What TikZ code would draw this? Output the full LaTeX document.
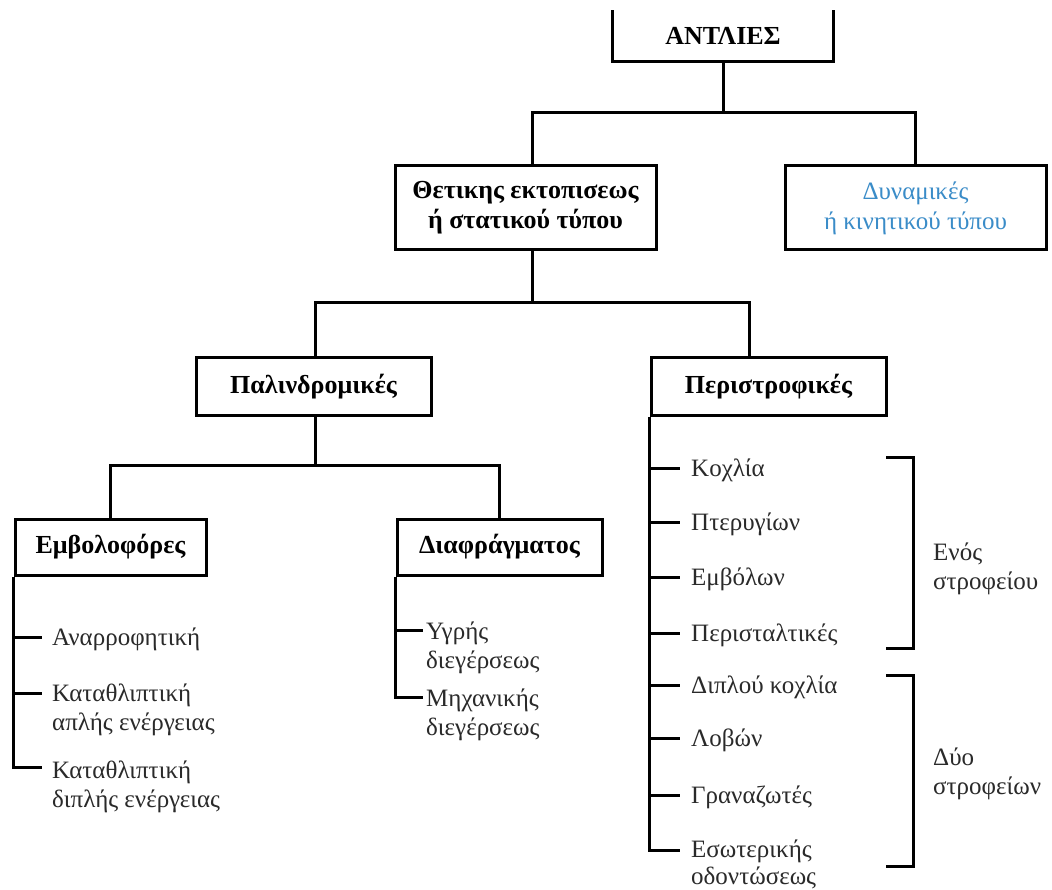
\documentclass[tikz,border=0pt]{standalone}
\usepackage{fontspec}
\setmainfont{Liberation Serif}
\definecolor{itemgray}{HTML}{2A2A2A}
\definecolor{dynblue}{HTML}{3A8CC8}
\tikzset{
  box/.style={draw, line width=3pt, rectangle, inner sep=0pt, align=center,
    font=\bfseries\fontsize{26}{30}\selectfont},
  conn/.style={line width=3pt},
  item/.style={anchor=base west, inner sep=0pt, align=left, text=itemgray,
    font=\fontsize{25}{29}\selectfont},
}
\begin{document}
\begin{tikzpicture}[x=1pt,y=-1pt]
\fill[white] (0,0) rectangle (1052,890);
\useasboundingbox (0,0) rectangle (1052,890);

% top box (open at the top)
\node[box, draw=none, minimum width=218pt, minimum height=48pt] (top) at (723,36) {ΑΝΤΛΙΕΣ};
\draw[conn] (top.north west) -- (top.south west) -- (top.south east) -- (top.north east);

\node[box, minimum width=261pt, minimum height=84pt] (thet) at (525.5,208) {Θετικης εκτοπισεως\\ή στατικού τύπου};
\node[box, minimum width=261pt, minimum height=84pt, text=dynblue,
      font=\fontsize{25}{30}\selectfont] (dyn) at (915.5,208) {Δυναμικές\\ή κινητικού τύπου};

\coordinate (j1) at (723,113);
\draw[conn] (top.south) -- (j1);
\draw[conn] ([xshift=7pt]thet.north) |- (j1) -| (dyn.north);

\node[box, minimum width=235pt, minimum height=57pt] (palin) at (313.5,386.5) {Παλινδρομικές};
\node[box, minimum width=235pt, minimum height=57pt] (perist) at (768.5,386.5) {Περιστροφικές};

\coordinate (j2) at (532.5,303);
\draw[conn] ([xshift=7pt]thet.south) -- (j2);
\draw[conn] ([xshift=1.5pt]palin.north) |- (j2) -| ([xshift=-19.5pt]perist.north);

\node[box, minimum width=191pt, minimum height=56pt] (embol) at (110.5,547) {Εμβολοφόρες};
\node[box, minimum width=205pt, minimum height=56pt] (diaf) at (499.5,547) {Διαφράγματος};

\coordinate (j3) at (315,465);
\draw[conn] ([xshift=1.5pt]palin.south) -- (j3);
\draw[conn] (embol.north) |- (j3) -| (diaf.north);

% Εμβολοφόρες list
\coordinate (e1) at (42,637);
\coordinate (e2) at (42,693);
\coordinate (e3) at (42,767);
\draw[conn] (embol.south west) |- (e3);
\draw[conn] (e1 -| embol.south west) -- (e1);
\draw[conn] (e2 -| embol.south west) -- (e2);
\node[item] (ie1) at (52,645) {Αναρροφητική};
\node[item] (ie2) at (52,730) {Καταθλιπτική\\απλής ενέργειας};
\node[item] (ie3) at (52,807) {Καταθλιπτική\\διπλής ενέργειας};

% Διαφράγματος list
\coordinate (d1) at (423,630);
\coordinate (d2) at (423,697);
\draw[conn] (diaf.south west) |- (d2);
\draw[conn] (d1 -| diaf.south west) -- (d1);
\node[item] (id1) at (426,668) {Υγρής\\διεγέρσεως};
\node[item] (id2) at (426,735) {Μηχανικής\\διεγέρσεως};

% Περιστροφικές list
\coordinate (p1) at (680,468);
\coordinate (p2) at (680,522);
\coordinate (p3) at (680,577);
\coordinate (p4) at (680,633);
\coordinate (p5) at (680,685);
\coordinate (p6) at (680,738);
\coordinate (p7) at (680,795);
\coordinate (p8) at (680,850);
\draw[conn] (perist.south west) |- (p8);
\foreach \p in {p1,p2,p3,p4,p5,p6,p7}{
  \draw[conn] (\p -| perist.south west) -- (\p);
}
\node[item] (ip1) at (691,476) {Κοχλία};
\node[item] (ip2) at (691,530) {Πτερυγίων};
\node[item] (ip3) at (691,585) {Εμβόλων};
\node[item] (ip4) at (691,641) {Περισταλτικές};
\node[item] (ip5) at (691,693) {Διπλού κοχλία};
\node[item] (ip6) at (691,746) {Λοβών};
\node[item] (ip7) at (691,803) {Γραναζωτές};
\node[item, font=\fontsize{25}{27}\selectfont] (ip8) at (691,884) {Εσωτερικής\\οδοντώσεως};

% brackets
\coordinate (b1t) at (886,457);
\coordinate (b1b) at (886,648);
\coordinate (b2t) at (886,675);
\coordinate (b2b) at (886,866);
\draw[conn] (b1t) -- ++(27,0) |- (b1b);
\draw[conn] (b2t) -- ++(27,0) |- (b2b);
\node[item] (g1) at (933,589) {Ενός\\στροφείου};
\node[item] (g2) at (933,794) {Δύο\\στροφείων};
\end{tikzpicture}
\end{document}
